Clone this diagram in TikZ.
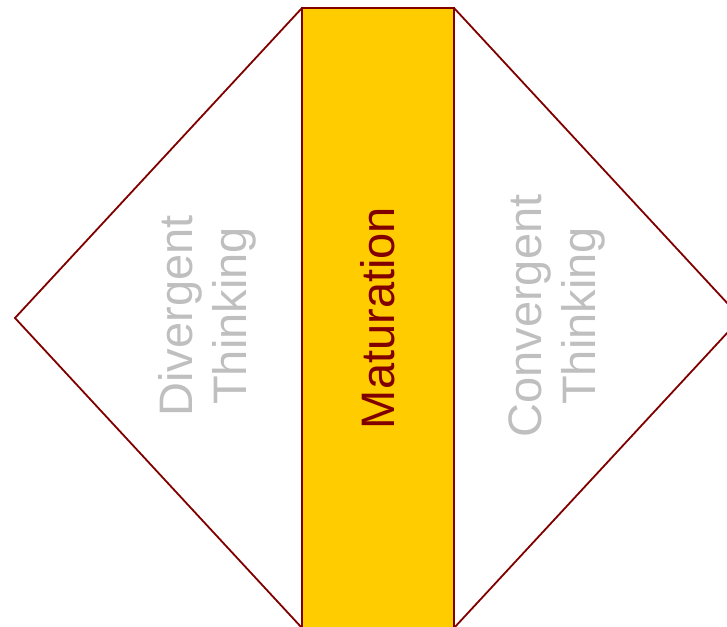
\documentclass[tikz,border=0pt]{standalone}
\usepackage{fontspec}
\setmainfont{Liberation Sans}
\usepackage{xcolor}
\definecolor{maroon}{HTML}{800000}
\definecolor{gold}{HTML}{FFCC00}
\definecolor{softgrey}{HTML}{BFBFBF}
\tikzset{
  matbox/.style={draw=maroon, fill=gold, line width=1.8pt, outer sep=0pt, inner sep=0pt, minimum width=152pt, minimum height=620pt},
  sidetext/.style={text=softgrey, rotate=90, align=center, font=\fontsize{47}{54}\selectfont},
  midtext/.style={text=maroon, rotate=90, font=\fontsize{47}{54}\selectfont},
  edge/.style={draw=maroon, line width=1.8pt, line join=miter}
}

\begin{document}
\begin{tikzpicture}[x=1pt, y=1pt]
\useasboundingbox (0,0) rectangle (727,626);
\clip (0,0) rectangle (727,626);
\node[matbox] (mat) at (378,308) {};
\coordinate (lv) at (15,308);
\coordinate (rv) at (741,308);
\draw[edge] (mat.north west) -- (lv) -- (mat.south west);
\draw[edge] (mat.north east) -- (rv) -- (mat.south east);
\node[midtext] (m1) at (mat.center) {Maturation};
\node[sidetext] (d1) at (207,310) {Divergent\\Thinking};
\node[sidetext] (c1) at (557,310) {Convergent\\Thinking};
\end{tikzpicture}
\end{document}
